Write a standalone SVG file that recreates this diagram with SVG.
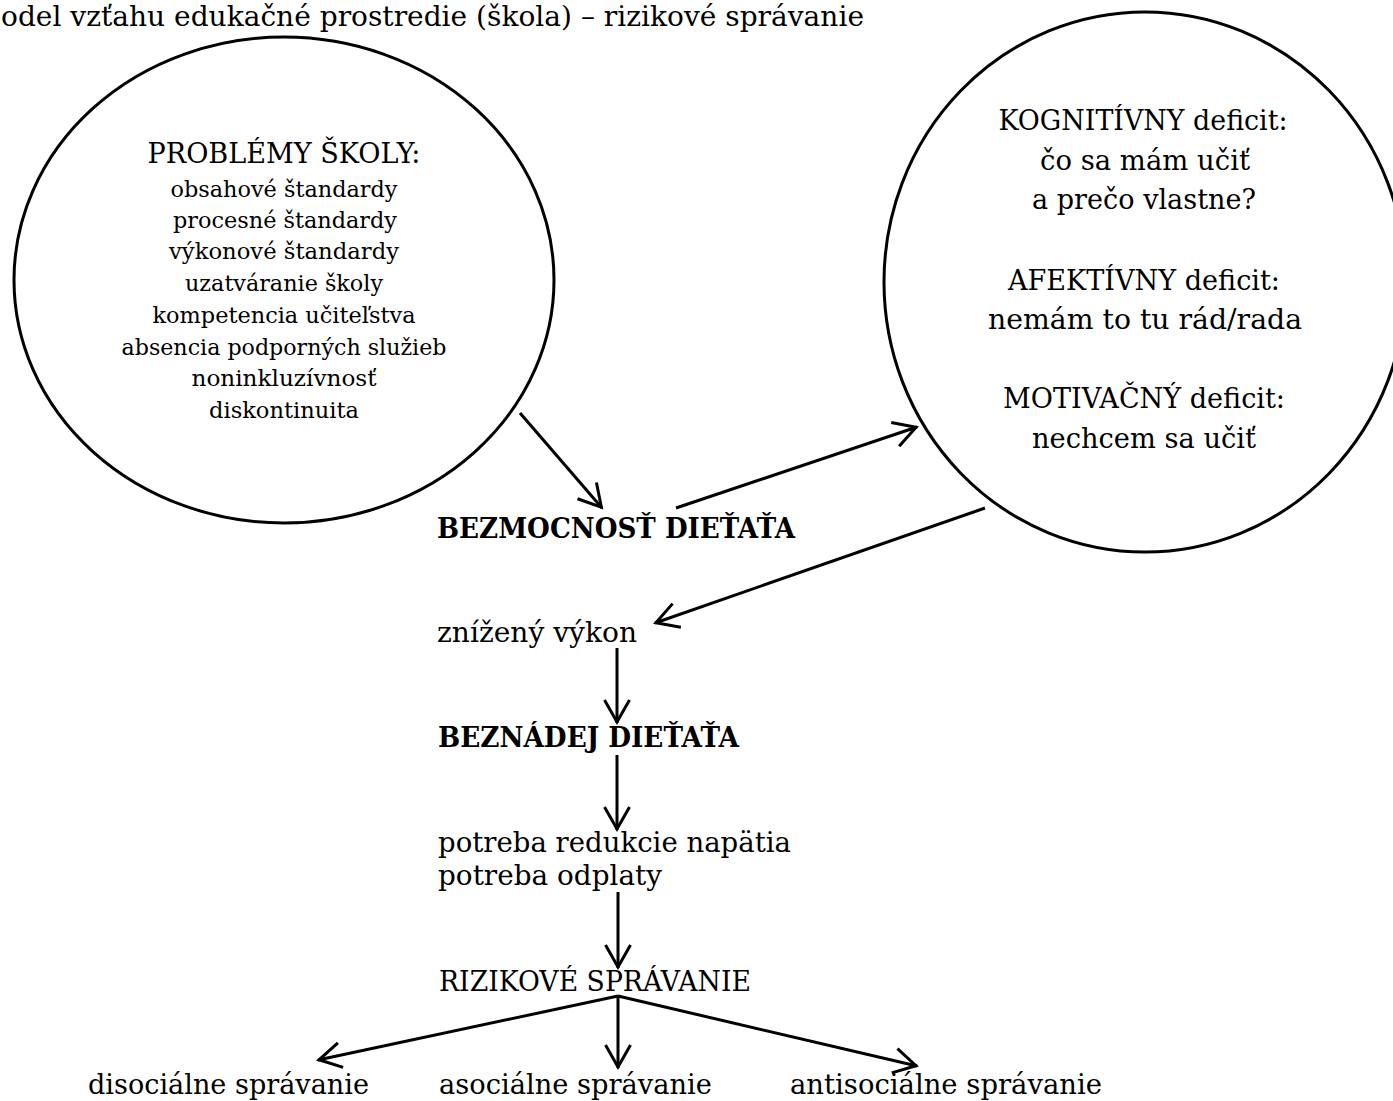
<svg xmlns="http://www.w3.org/2000/svg" width="1393" height="1101" viewBox="0 0 1393 1101">
  <style>
    text { font-family: "DejaVu Serif", "Liberation Serif", serif; fill: #000; }
    .t { font-size: 27px; }
    .s { font-size: 22px; }
    .b { font-size: 27px; font-weight: bold; }
    .c { text-anchor: middle; }
    .shape { fill: none; stroke: #000; stroke-width: 3; }
    .conn line { stroke: #000; stroke-width: 3; marker-end: url(#arrow); }
  </style>
  <defs>
    <marker id="arrow" markerUnits="userSpaceOnUse" viewBox="-28 -16 32 32" refX="1" refY="0" markerWidth="32" markerHeight="32" orient="auto" overflow="visible">
      <path d="M-22,-12.5 L0,0 L-22,12.5" fill="none" stroke="#000" stroke-width="3"/>
    </marker>
  </defs>
  <rect width="1393" height="1101" fill="#fff"/>

  <g id="title">
    <text class="t" x="1" y="26" textLength="863" lengthAdjust="spacingAndGlyphs">odel vzťahu edukačné prostredie (škola) – rizikové správanie</text>
  </g>

  <g id="problemy-skoly">
    <ellipse class="shape" cx="284" cy="280" rx="270" ry="243"/>
    <text class="t c" x="284" y="163" textLength="273" lengthAdjust="spacingAndGlyphs">PROBLÉMY ŠKOLY:</text>
    <text class="s c" x="284" y="197" textLength="227" lengthAdjust="spacingAndGlyphs">obsahové štandardy</text>
    <text class="s c" x="285" y="228" textLength="224" lengthAdjust="spacingAndGlyphs">procesné štandardy</text>
    <text class="s c" x="284" y="259" textLength="230" lengthAdjust="spacingAndGlyphs">výkonové štandardy</text>
    <text class="s c" x="284" y="291" textLength="198" lengthAdjust="spacingAndGlyphs">uzatváranie školy</text>
    <text class="s c" x="284" y="323" textLength="263" lengthAdjust="spacingAndGlyphs">kompetencia učiteľstva</text>
    <text class="s c" x="284" y="355" textLength="325" lengthAdjust="spacingAndGlyphs">absencia podporných služieb</text>
    <text class="s c" x="284" y="386" textLength="185" lengthAdjust="spacingAndGlyphs">noninkluzívnosť</text>
    <text class="s c" x="284" y="418" textLength="150" lengthAdjust="spacingAndGlyphs">diskontinuita</text>
  </g>

  <g id="deficity">
    <ellipse class="shape" cx="1145" cy="282" rx="261" ry="270"/>
    <text class="t c" x="1143" y="130" textLength="289" lengthAdjust="spacingAndGlyphs">KOGNITÍVNY deficit:</text>
    <text class="t c" x="1145" y="170" textLength="210" lengthAdjust="spacingAndGlyphs">čo sa mám učiť</text>
    <text class="t c" x="1144" y="209" textLength="224" lengthAdjust="spacingAndGlyphs">a prečo vlastne?</text>
    <text class="t c" x="1144" y="290" textLength="272" lengthAdjust="spacingAndGlyphs">AFEKTÍVNY deficit:</text>
    <text class="t c" x="1145" y="329" textLength="314" lengthAdjust="spacingAndGlyphs">nemám to tu rád/rada</text>
    <text class="t c" x="1144" y="408" textLength="282" lengthAdjust="spacingAndGlyphs">MOTIVAČNÝ deficit:</text>
    <text class="t c" x="1144" y="448" textLength="224" lengthAdjust="spacingAndGlyphs">nechcem sa učiť</text>
  </g>

  <g id="bezmocnost">
    <text class="b" x="437" y="538" textLength="358" lengthAdjust="spacingAndGlyphs">BEZMOCNOSŤ DIEŤAŤA</text>
  </g>
  <g id="znizeny-vykon">
    <text class="t" x="437" y="642" textLength="200" lengthAdjust="spacingAndGlyphs">znížený výkon</text>
  </g>
  <g id="beznadej">
    <text class="b" x="438" y="747" textLength="301" lengthAdjust="spacingAndGlyphs">BEZNÁDEJ DIEŤAŤA</text>
  </g>
  <g id="potreba">
    <text class="t" x="438" y="852" textLength="353" lengthAdjust="spacingAndGlyphs">potreba redukcie napätia</text>
    <text class="t" x="438" y="885" textLength="224" lengthAdjust="spacingAndGlyphs">potreba odplaty</text>
  </g>
  <g id="rizikove">
    <text class="t" x="439" y="991" textLength="312" lengthAdjust="spacingAndGlyphs">RIZIKOVÉ SPRÁVANIE</text>
  </g>
  <g id="disocialne">
    <text class="t" x="88" y="1094" textLength="281" lengthAdjust="spacingAndGlyphs">disociálne správanie</text>
  </g>
  <g id="asocialne">
    <text class="t" x="439" y="1094" textLength="273" lengthAdjust="spacingAndGlyphs">asociálne správanie</text>
  </g>
  <g id="antisocialne">
    <text class="t" x="790" y="1094" textLength="312" lengthAdjust="spacingAndGlyphs">antisociálne správanie</text>
  </g>

  <g id="connectors" class="conn">
    <line x1="520" y1="413" x2="602" y2="508"/>
    <line x1="676" y1="508" x2="917" y2="427"/>
    <line x1="985" y1="508" x2="655" y2="623"/>
    <line x1="617" y1="648" x2="617" y2="723"/>
    <line x1="617" y1="755" x2="617" y2="830"/>
    <line x1="618" y1="892" x2="618" y2="968"/>
    <line x1="618" y1="996" x2="318" y2="1060"/>
    <line x1="618" y1="996" x2="618" y2="1068"/>
    <line x1="618" y1="996" x2="917" y2="1066"/>
  </g>
</svg>
